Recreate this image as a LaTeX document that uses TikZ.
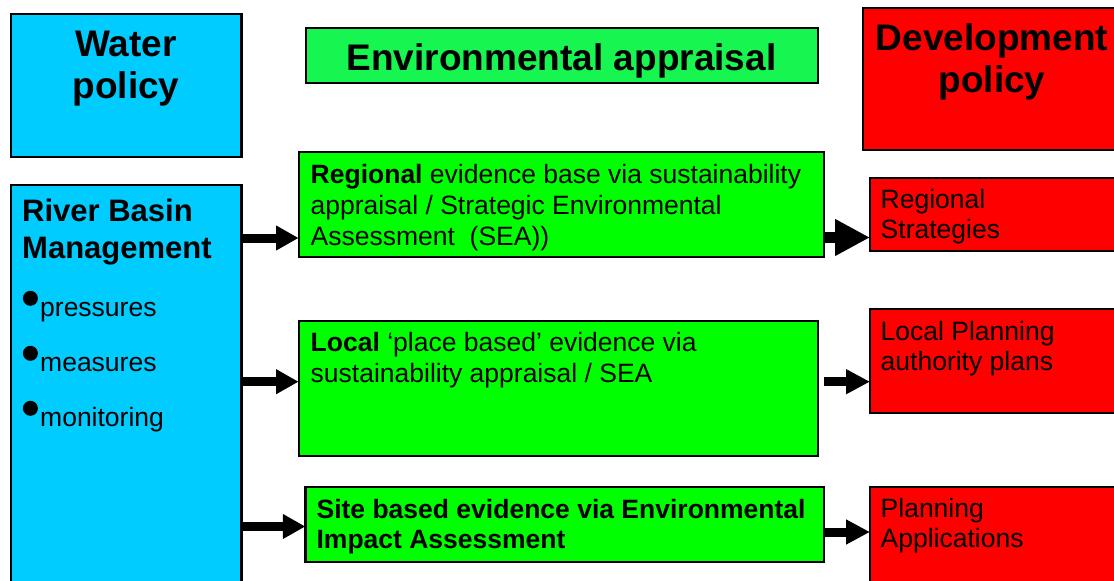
\documentclass[tikz,border=0pt]{standalone}
\usepackage{fontspec}
\setmainfont{Liberation Sans}
\usetikzlibrary{arrows.meta,calc}
\definecolor{wcyan}{RGB}{0,204,255}
\definecolor{egreen}{RGB}{0,255,0}
\definecolor{hgreen}{RGB}{22,245,80}
\definecolor{dred}{RGB}{255,0,0}
\begin{document}
\begin{tikzpicture}[x=1pt,y=-1pt,
  box/.style={draw=black, line width=2.2pt, anchor=north west, inner sep=0pt, outer sep=0pt},
  title/.style={inner sep=0pt, align=center, font=\fontsize{37}{42}\selectfont\bfseries},
  body/.style={inner sep=0pt, anchor=north west, align=left, font=\fontsize{26.5}{31}\selectfont},
  redtxt/.style={inner sep=0pt, anchor=north west, align=left, font=\fontsize{26.5}{30}\selectfont},
  bultxt/.style={inner sep=0pt, anchor=base west, font=\fontsize{26.5}{31}\selectfont},
  bul/.style={circle, fill=black, inner sep=0pt, minimum size=15pt},
  conn/.style={line width=9pt, -{Triangle[length=22.6pt,width=23.5pt]}},
  connr/.style={line width=9pt, -{Triangle[length=24pt,width=23.5pt]}},
  bigconn/.style={line width=11.5pt, -{Triangle[length=35pt,width=34.5pt]}},
]
\useasboundingbox (0,0) rectangle (1114,581);

% boxes
\node[box, fill=wcyan, minimum width=230.7pt, minimum height=142.7pt] (wp) at (10.7,14) {};
\node[box, fill=hgreen, minimum width=512.3pt, minimum height=55.6pt] (ea) at (305.7,27.7) {};
\node[box, fill=dred, minimum width=262pt, minimum height=141.7pt] (dp) at (863,8.3) {};
\node[box, fill=wcyan, minimum width=230.7pt, minimum height=415pt] (rbm) at (10.7,185) {};
\node[box, fill=egreen, minimum width=525.4pt, minimum height=104.7pt] (reg) at (298.6,152) {};
\node[box, fill=egreen, minimum width=519.4pt, minimum height=135.3pt] (loc) at (298.6,320.7) {};
\node[box, fill=egreen, minimum width=518.6pt, minimum height=75pt] (site) at (305.4,486.7) {};
\node[box, fill=dred, minimum width=255pt, minimum height=72.7pt] (rs) at (870,178) {};
\node[box, fill=dred, minimum width=255pt, minimum height=103.4pt] (lp) at (870,309.3) {};
\node[box, fill=dred, minimum width=255pt, minimum height=113.3pt] (pa) at (870,486.7) {};

% texts
\node[title, anchor=north] (wpt) at (126,27.3) {\strut Water\\policy};
\node[title, anchor=base] (eat) at (561.5,70) {Environmental appraisal};
\node[title, anchor=north] (dpt) at (992,21) {\strut Development\\policy};
\node[inner sep=0pt, anchor=north west, align=left, font=\fontsize{31}{36.5}\selectfont\bfseries] (rbmt) at (22,196.2) {\strut River Basin\\Management};

\node[bul] (b1) at (30.4,298.3) {};
\node[bul] (b2) at (30.4,353.3) {};
\node[bul] (b3) at (30.4,408.3) {};
\node[bultxt] (t1) at (40,316) {pressures};
\node[bultxt] (t2) at (40,371.7) {measures};
\node[bultxt] (t3) at (40,426.7) {monitoring};

\node[body] (regt) at (310.5,161.3) {\strut\textbf{Regional} evidence base via sustainability\\appraisal / Strategic Environmental\\Assessment\ \ (SEA))};
\node[body] (loct) at (310.5,330) {\strut\textbf{Local} ‘place based’ evidence via\\sustainability appraisal / SEA};
\node[body, font=\fontsize{26.5}{30.5}\selectfont\bfseries] (sitet) at (316.4,496.5) {\strut Site based evidence via Environmental\\Impact Assessment};

\node[redtxt] (rst) at (880.5,187.3) {\strut Regional\\Strategies};
\node[redtxt] (lpt) at (880.5,319) {\strut Local Planning\\authority plans};
\node[redtxt] (pat) at (880.5,496) {\strut Planning\\Applications};

% connectors
\coordinate (y1) at (0,238);
\coordinate (y1b) at (0,237.5);
\coordinate (y2) at (0,381.7);
\coordinate (y3) at (0,526.5);
\coordinate (y3b) at (0,532);
\draw[conn] (rbm.east |- y1) -- (reg.west |- y1);
\draw[bigconn] (reg.east |- y1b) -- (rs.west |- y1b);
\draw[conn] (rbm.east |- y2) -- (loc.west |- y2);
\draw[connr] ($(loc.east |- y2)+(6,0)$) -- (lp.west |- y2);
\draw[conn] (rbm.east |- y3) -- (site.west |- y3);
\draw[connr] (site.east |- y3b) -- (pa.west |- y3b);
\end{tikzpicture}
\end{document}
